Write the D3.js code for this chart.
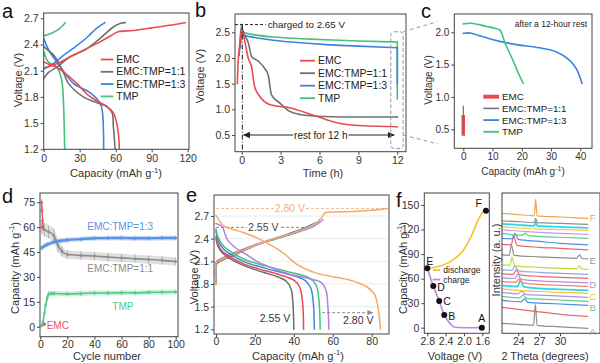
<!DOCTYPE html>
<html>
<head>
<meta charset="utf-8">
<script src="https://cdn.jsdelivr.net/npm/d3@7/dist/d3.min.js"></script>
<style>
  body { margin: 0; background: #fff; }
  svg text { font-family: Arial, "Liberation Sans", Helvetica, sans-serif; }
</style>
</head>
<body>
<svg id="fig" width="600" height="363"></svg>
<script>
// ---------- data ----------
const seriesNames = ["EMC", "EMC:TMP=1:1", "EMC:TMP=1:3", "TMP"];
const seriesColors = ["#ea4b53", "#6f6f6f", "#3d84dc", "#42c27d"];

// a: charge / discharge profiles [capacity, voltage]
const aCharge = [
  [[0, 2.13], [5, 2.15], [12, 2.185], [22, 2.26], [34, 2.34], [47, 2.43], [56, 2.5], [62, 2.545], [75, 2.56], [90, 2.59], [105, 2.62], [118, 2.65]],
  [[0, 2.01], [4, 2.08], [11, 2.14], [22, 2.26], [34.5, 2.34], [47, 2.47], [58, 2.6], [63.6, 2.64], [68, 2.65]],
  [[0, 2.12], [8, 2.18], [16, 2.27], [26, 2.37], [36, 2.48], [44, 2.585], [51, 2.65]],
  [[0, 2.5], [5, 2.52], [12, 2.57], [18, 2.65]]
];
const aDischarge = [
  [[0, 2.2], [5, 2.17], [10.7, 2.14], [18, 2.07], [27.5, 1.955], [37, 1.82], [45, 1.75], [52.5, 1.69], [58, 1.62], [60.8, 1.5], [62.5, 1.35], [63, 1.2]],
  [[0, 2.375], [4, 2.33], [9.4, 2.26], [16.4, 2.08], [20.6, 1.955], [33, 1.8], [45, 1.73], [52.5, 1.69], [57, 1.62], [58, 1.47], [59, 1.3], [59.5, 1.2]],
  [[0, 2.47], [4, 2.34], [13.6, 2.15], [24.7, 1.955], [38.6, 1.85], [47, 1.73], [49, 1.62], [49.8, 1.4], [50, 1.2]],
  [[0, 2.32], [3.9, 2.2], [11, 2.14], [15, 1.99], [16.4, 1.76], [17, 1.5], [17.5, 1.2]]
];

// b: voltage during rest [time h, voltage]; drop at t = 12 h per series
const bRest = [
  [[-0.34, 1.5], [-0.28, 1.9], [-0.22, 2.1], [-0.12, 2.35], [-0.05, 2.55], [0.12, 2.45], [0.3, 2.25], [0.5, 2.0], [0.76, 1.83], [1.0, 1.44], [1.4, 1.25], [2.2, 1.09], [3.7, 1.03], [5.7, 0.87], [7.5, 0.73], [9.3, 0.68], [12, 0.66]],
  [[-0.2, 2.05], [-0.12, 2.3], [-0.03, 2.58], [0.25, 2.43], [0.5, 2.3], [0.76, 2.03], [1.27, 1.94], [1.79, 1.79], [2.05, 1.66], [2.3, 1.28], [2.95, 1.12], [3.7, 0.96], [4.5, 0.9], [6.3, 0.86], [9, 0.85], [12, 0.85]],
  [[-0.1, 2.2], [-0.03, 2.5], [0.1, 2.45], [1, 2.4], [3, 2.33], [6, 2.27], [9, 2.23], [12, 2.2]],
  [[-0.08, 2.3], [-0.03, 2.66], [0.1, 2.5], [1, 2.45], [3, 2.4], [6, 2.36], [9, 2.33], [12, 2.31]]
];
const bDropTo = [0.66, 0.85, 1.5, 1.2];

// c: discharge after rest [capacity, voltage]
const cEMC = [[0, 0.4], [0, 0.72]];
const c11 = [[0, 0.45], [0, 0.86]];
const c13 = [[0, 1.985], [2.3, 1.99], [6.8, 1.93], [12.5, 1.86], [18.2, 1.81], [26, 1.76], [31.7, 1.7], [36.3, 1.57], [38.6, 1.44], [40.6, 1.21]];
const cTMP = [[0, 2.13], [2.8, 2.14], [8, 2.09], [11, 2.06], [12.6, 2.03], [14.3, 1.83], [17.2, 1.545], [19, 1.35], [20.5, 1.21]];

// d: cycling [cycle, capacity, error]
const dEMC = [[1, 75, 2], [1.3, 70, 2], [1.7, 64, 2], [2, 60, 2]];
const dEMCLow = [[2.7, 1.2, 0.8], [3.2, 1.6, 0.8]];
const d11 = [[1, 60, 4], [3, 58.5, 4], [6, 57.3, 4], [10, 55, 4], [13, 49, 4], [16, 45.5, 3], [20, 43.5, 2.5], [30, 43, 2.5], [40, 42.6, 2.5], [50, 42, 2.5], [60, 41.5, 2.5], [70, 41, 2.5], [80, 40.5, 2.5], [90, 40, 2.5], [100, 39.3, 2.5]];
const d13 = [[1, 47.5, 1.5], [3, 48.6, 1.5], [5, 49.5, 1.5], [10, 51, 1.5], [15, 51.8, 1.5], [20, 52.3, 1.5], [30, 52.8, 1.5], [40, 53.3, 1.5], [50, 53.4, 1.5], [60, 53.5, 1.5], [70, 53.3, 1.5], [80, 53.3, 1.5], [90, 53.5, 1.5], [100, 53.5, 1.5]];
const dTMP = [[1, 0.5, 1], [2, 3, 1.5], [3, 8, 1.5], [4, 13, 1.5], [5, 17, 2], [6, 19.5, 2], [8, 20, 1.5], [10, 20, 1.5], [20, 19.8, 1.5], [30, 20, 1.5], [40, 20.3, 1.5], [50, 20.3, 1.5], [60, 20.5, 1.5], [70, 20.4, 1.5], [80, 20.7, 1.5], [90, 20.8, 1.5], [100, 21, 1.5]];
const dColors = ["#e4545c", "#8c8c8c", "#5a93e6", "#4fcb86"];

// e: cut-off voltage profiles [capacity, voltage]
const eColors = ["#6b6b6b", "#e9474f", "#3e86dc", "#42c27d", "#b27fe2", "#f5a868"];
const eDischarge = [
  [[0, 2.4], [1, 2.3], [3, 2.22], [7, 2.14], [12, 2.07], [20, 1.99], [30, 1.91], [36, 1.84], [38.5, 1.74], [39.5, 1.55], [40, 1.2]],
  [[0, 2.43], [1, 2.33], [3, 2.24], [8, 2.15], [14, 2.07], [22, 2.0], [33, 1.92], [40, 1.85], [43, 1.76], [44.5, 1.55], [45, 1.2]],
  [[0, 2.5], [1, 2.38], [4, 2.26], [9, 2.17], [15, 2.09], [25, 2.01], [37, 1.93], [45, 1.86], [48.5, 1.76], [50, 1.55], [50.5, 1.2]],
  [[0, 2.53], [1, 2.42], [4, 2.3], [10, 2.19], [16, 2.11], [27, 2.03], [39, 1.95], [48, 1.88], [51.5, 1.78], [53, 1.55], [53.5, 1.2]],
  [[0, 2.6], [3, 2.56], [6, 2.38], [10, 2.28], [15, 2.2], [21, 2.1], [30, 2.0], [38, 1.93], [48, 1.87], [54, 1.82], [56.5, 1.72], [57.5, 1.5], [58, 1.2]],
  [[0, 2.71], [4, 2.57], [12, 2.5], [21, 2.41], [31, 2.27], [36, 2.18], [41, 2.07], [52, 1.94], [69, 1.85], [77, 1.77], [81.5, 1.66], [83.5, 1.45], [84.5, 1.2]]
];
const eCharge = [
  [[0, 1.8], [0.3, 2.06], [2, 2.1], [10, 2.19], [20, 2.31], [30, 2.4], [40, 2.49], [47, 2.55]],
  [[0, 1.82], [0.3, 2.07], [2, 2.11], [10, 2.2], [20, 2.31], [30, 2.4], [40, 2.48], [49, 2.58]],
  [[0, 1.85], [0.3, 2.08], [2, 2.12], [10, 2.2], [20, 2.31], [30, 2.4], [40, 2.48], [51, 2.61]],
  [[0, 1.85], [0.3, 2.09], [2, 2.12], [10, 2.21], [20, 2.31], [30, 2.39], [40, 2.47], [53, 2.63]],
  [[0, 1.9], [0.3, 2.1], [2, 2.13], [10, 2.22], [20, 2.32], [30, 2.4], [40, 2.47], [50, 2.56], [55, 2.65]],
  [[0, 1.8], [0.3, 2.08], [2, 2.11], [10, 2.2], [20, 2.31], [30, 2.4], [40, 2.48], [50, 2.58], [54, 2.67], [56, 2.74], [58, 2.75], [70, 2.76], [80, 2.775], [88, 2.8]]
];

// f left: capacity vs voltage [voltage, capacity]
const fCharge = [[1.61, 0], [1.8, 0], [2.0, 0], [2.2, 0.5], [2.3, 5], [2.43, 15.5], [2.54, 32.6], [2.67, 51], [2.8, 72.6]];
const fDischarge = [[2.8, 72.6], [2.63, 73.8], [2.3, 80.7], [2.01, 95], [1.83, 113], [1.69, 131.7], [1.58, 141.8], [1.52, 143]];
const fPointLabels = ["A", "B", "C", "D", "E", "F"];
const fPointV = [1.61, 2.43, 2.54, 2.67, 2.8, 1.52];
const fPointCap = [0, 15.5, 32.6, 51, 72.6, 143];

// f right: XRD patterns, bottom to top [2theta, intensity]
const xrdCurves = [
  [[21.6, 10], [24, 9], [26.2, 8], [26.45, 29], [26.7, 8], [30, 6.5], [34, 5]],
  [[21.6, 26], [24, 24], [27, 21.5], [30, 19], [34, 17]],
  [[21.6, 33], [24.4, 31.5], [24.9, 34.5], [25.4, 31], [28, 30], [31, 29], [34, 28]],
  [[21.6, 37], [24.2, 35.5], [24.7, 38.5], [25.2, 35], [28, 34], [31, 33], [34, 32]],
  [[21.6, 41], [24, 39.5], [24.5, 42.5], [25, 39], [28, 38], [31, 37], [34, 36]],
  [[21.6, 44.5], [24, 43], [27, 41.8], [30, 41], [34, 40]],
  [[21.6, 48], [23.9, 46.8], [24.3, 53], [24.8, 46.5], [27, 45], [30, 44], [34, 43]],
  [[21.6, 52], [23.7, 51], [24.1, 54.5], [24.6, 50.5], [27, 49], [30, 48], [34, 47]],
  [[21.6, 55.5], [23.5, 54.8], [23.9, 59], [24.4, 54], [27, 52.5], [30, 51.5], [34, 50.5]],
  [[21.6, 59.5], [23.3, 59], [23.7, 63.5], [24.2, 58.5], [27, 57], [30, 56], [34, 55]],
  [[21.6, 63.5], [23.1, 63], [23.5, 67.5], [24, 62.5], [27, 61], [30, 60], [34, 59]],
  [[21.6, 68.5], [22.8, 68], [23.1, 76], [23.5, 67.5], [27, 66], [32.4, 64.5], [32.8, 67.5], [33.2, 64.3], [34, 64]],
  [[21.6, 78.5], [22.7, 78], [23.0, 88.5], [23.4, 78], [27, 76.5], [32.4, 75], [32.8, 78.5], [33.2, 74.8], [34, 74.5]],
  [[21.6, 89], [23, 88.5], [23.3, 98], [23.8, 88], [27, 86], [30, 85], [34, 83.5]],
  [[21.6, 95], [23.2, 94.5], [23.5, 100], [24, 94], [27, 92], [30, 90], [34, 88.5]],
  [[21.6, 100], [24.6, 98.2], [25, 100.2], [25.5, 97.6], [28, 96.5], [31, 95.8], [34, 95]],
  [[21.6, 103.5], [24, 102.3], [27, 101], [30, 100], [34, 99]],
  [[21.6, 106.5], [24, 105.3], [27, 104.2], [30, 103.8], [34, 103]],
  [[21.6, 109.5], [24, 108.4], [26.3, 107.5], [26.5, 111.5], [26.75, 107.3], [30, 106.5], [34, 105.5]],
  [[21.6, 112.5], [24, 111.6], [26.3, 110.8], [26.5, 115], [26.75, 110.6], [30, 110], [34, 109]],
  [[21.6, 120], [24, 118.7], [26.3, 117.6], [26.5, 134], [26.7, 117.4], [30, 116.3], [34, 115]]
];
const xrdColors = ["#8e8e8e", "#e8676b", "#4d8fe0", "#5bd08a", "#b98be6", "#f5c530", "#2fd7e6", "#ef8a5c", "#b98be6", "#e8676b", "#8ea6ea",
  "#b4e02a", "#8e8e8e", "#e8676b", "#4d8fe0", "#5bd08a", "#c89ae8", "#f5c530", "#2fd7e6", "#8e8e8e", "#f4a259"];
const xrdLabels = ["A", "B", "C", "D", "E", "F"];
const xrdLabelI = [1.5, 25.5, 37, 48.5, 73, 116];
const xrdLabelColors = ["#a0a0a0", "#5bd08a", "#f2c12e", "#b98be6", "#9a9a9a", "#f0a060"];

// ---------- helpers ----------
const svg = d3.select("#fig");
const defs = svg.append("defs");
let clipN = 0;

function arrowMarker(id, color) {
  defs.append("marker").attr("id", id).attr("viewBox", "0 0 8 8")
    .attr("refX", 7).attr("refY", 4).attr("markerWidth", 6).attr("markerHeight", 6)
    .attr("orient", "auto-start-reverse")
    .append("path").attr("d", "M0,0.5 L8,4 L0,7.5 z").attr("fill", color);
}
arrowMarker("arrK", "#222");
arrowMarker("arrG", "#8a8a8a");

function makePanel(o) {
  const g = svg.append("g");
  const x = d3.scaleLinear().domain(o.xd).range(o.xr);
  const y = d3.scaleLinear().domain(o.yd).range(o.yr);
  const [x0, y0, x1, y1] = o.frame;
  const fs = o.fs || 10.5;
  const clipId = "clip" + (++clipN);
  defs.append("clipPath").attr("id", clipId).append("rect")
    .attr("x", x0).attr("y", y0).attr("width", x1 - x0).attr("height", y1 - y0);

  const xa = g.append("g").attr("transform", `translate(0,${y1})`)
    .call(d3.axisBottom(x).tickValues(o.xt).tickFormat(o.xf).tickSize(3).tickPadding(o.xpad == null ? 2 : o.xpad));
  xa.select(".domain").remove();
  xa.selectAll("text").attr("font-size", fs).attr("fill", "#333");
  xa.selectAll("line").attr("stroke", "#444");
  if (o.yt) {
    const ya = g.append("g").attr("transform", `translate(${x0},0)`)
      .call(d3.axisLeft(y).tickValues(o.yt).tickFormat(o.yf).tickSize(3).tickPadding(2));
    ya.select(".domain").remove();
    ya.selectAll("text").attr("font-size", fs).attr("fill", "#333");
    ya.selectAll("line").attr("stroke", "#444");
  }
  const plot = g.append("g").attr("clip-path", `url(#${clipId})`);
  g.append("rect").attr("x", x0).attr("y", y0).attr("width", x1 - x0).attr("height", y1 - y0)
    .attr("fill", "none").attr("stroke", "#444").attr("stroke-width", 1);
  return { g, plot, x, y };
}

function drawLine(p, pts, color, w, curve) {
  return p.plot.append("path").datum(pts)
    .attr("d", d3.line().x(d => p.x(d[0])).y(d => p.y(d[1])).curve(curve || d3.curveCatmullRom.alpha(0.5)))
    .attr("fill", "none").attr("stroke", color).attr("stroke-width", w)
    .attr("stroke-linejoin", "round").attr("stroke-linecap", "round");
}

function title(g, txt, x, y, fs, rot) {
  return g.append("text").attr("text-anchor", "middle").attr("font-size", fs).attr("fill", "#333")
    .attr("dy", rot ? "0.35em" : 0)
    .attr("transform", `translate(${x},${y})` + (rot ? " rotate(-90)" : ""))
    .text(txt);
}

function capTitle(g, x, y, fs, rot) {
  const t = g.append("text").attr("text-anchor", "middle").attr("font-size", fs).attr("fill", "#333")
    .attr("transform", `translate(${x},${y})` + (rot ? " rotate(-90)" : ""));
  if (rot) t.attr("dy", "0.35em");
  t.append("tspan").text("Capacity (mAh g");
  t.append("tspan").attr("font-size", fs * 0.7).attr("dy", -fs * 0.4).text("-1");
  t.append("tspan").attr("dy", fs * 0.4).text(")");
}

function legend(g, x0, y0, dy, names, colors, fs, len, widths) {
  names.forEach((n, i) => {
    const yy = y0 + i * dy;
    g.append("line").attr("x1", x0).attr("x2", x0 + len).attr("y1", yy).attr("y2", yy)
      .attr("stroke", colors[i]).attr("stroke-width", widths ? widths[i] : 1.8);
    g.append("text").attr("x", x0 + len + 3).attr("y", yy).attr("dy", "0.35em")
      .attr("font-size", fs).attr("fill", "#222").text(n);
  });
}

function letter(txt, x, y) {
  svg.append("text").attr("x", x).attr("y", y).attr("font-size", 20).attr("fill", "#111").text(txt);
}

function textBg(g, txt, x, y, fs, color, bg) {
  const t = g.append("text").attr("x", x).attr("y", y).attr("dy", "0.35em").attr("text-anchor", "middle")
    .attr("font-size", fs).attr("fill", color).text(txt);
  const b = t.node().getBBox();
  g.insert("rect", () => t.node()).attr("x", b.x - 1).attr("y", b.y + 1).attr("width", b.width + 2)
    .attr("height", b.height - 2).attr("fill", bg);
  return t;
}

const f1 = d3.format(".1f");
const fd = d3.format("d");
const BOTTOM_TITLE = 359.5;

// ---------- panel a ----------
const pa = makePanel({
  frame: [43.7, 13, 189, 149.3], xd: [0, 120], xr: [43.7, 187.7], yd: [1.2, 2.7], yr: [149.3, 18.3],
  xt: [0, 30, 60, 90, 120], xf: fd, yt: [1.2, 1.5, 1.8, 2.1, 2.4, 2.7], yf: f1
});
[3, 2, 1, 0].forEach(i => {
  drawLine(pa, aCharge[i], seriesColors[i], 1.6);
  drawLine(pa, aDischarge[i], seriesColors[i], 1.6);
});
legend(pa.g, 100.7, 59.5, 12.3, seriesNames, seriesColors, 10.5, 12.6);
title(pa.g, "Voltage (V)", 18, 80, 11, true);
capTitle(pa.g, 116, 177, 11, false);
letter("a", 2, 18);

// ---------- panel b ----------
const pb = makePanel({
  frame: [235, 14, 406, 151.7], xd: [0, 12], xr: [241.7, 397.3], yd: [0.5, 2.5], yr: [135, 32.3],
  xt: [0, 3, 6, 9, 12], xf: fd, yt: [0.5, 1.0, 1.5, 2.0, 2.5], yf: f1
});
[3, 2, 1, 0].forEach(i => {
  drawLine(pb, bRest[i], seriesColors[i], 1.6, d3.curveMonotoneX);
  const last = bRest[i][bRest[i].length - 1];
  drawLine(pb, [last, [last[0], bDropTo[i]]], seriesColors[i], 1.6, d3.curveLinear);
});
// charged-to line and t=0 marker
pb.g.append("line").attr("x1", 235).attr("x2", pb.x(1.85)).attr("y1", pb.y(2.65)).attr("y2", pb.y(2.65))
  .attr("stroke", "#222").attr("stroke-dasharray", "3,2").attr("stroke-width", 1);
pb.g.append("text").attr("x", pb.x(2.0)).attr("y", pb.y(2.65)).attr("dy", "0.35em")
  .attr("font-size", 9.8).attr("fill", "#222").text("charged to 2.65 V");
pb.g.append("line").attr("x1", pb.x(0.05)).attr("x2", pb.x(0.05)).attr("y1", pb.y(2.65)).attr("y2", 151.7)
  .attr("stroke", "#222").attr("stroke-dasharray", "5,2,1,2").attr("stroke-width", 1);
// rest arrow
pb.g.append("line").attr("x1", pb.x(0.15)).attr("x2", pb.x(11.75)).attr("y1", pb.y(0.5)).attr("y2", pb.y(0.5))
  .attr("stroke", "#222").attr("stroke-width", 1.2)
  .attr("marker-start", "url(#arrK)").attr("marker-end", "url(#arrK)");
textBg(pb.g, "rest for 12 h", pb.x(6.1), pb.y(0.5), 10, "#222", "#fff");
// zoom box
pb.g.append("rect").attr("x", pb.x(11.5)).attr("y", pb.y(2.51))
  .attr("width", pb.x(12.45) - pb.x(11.5)).attr("height", pb.y(0.24) - pb.y(2.51))
  .attr("rx", 3).attr("fill", "none").attr("stroke", "#999").attr("stroke-dasharray", "4,2");
svg.append("line").attr("x1", pb.x(12.45)).attr("y1", pb.y(2.51)).attr("x2", 437).attr("y2", 21.7)
  .attr("stroke", "#999").attr("stroke-dasharray", "4,3");
svg.append("line").attr("x1", pb.x(12.45)).attr("y1", pb.y(0.5)).attr("x2", 438).attr("y2", 144)
  .attr("stroke", "#999").attr("stroke-dasharray", "4,3");
legend(pb.g, 300, 60.7, 12.5, seriesNames, seriesColors, 10.5, 15);
title(pb.g, "Voltage (V)", 200, 76, 11, true);
title(pb.g, "Time (h)", 323, 177, 11, false);
letter("b", 195, 17);

// ---------- panel c ----------
const pc = makePanel({
  frame: [454.3, 14, 592, 148.3], xd: [0, 40], xr: [463.3, 580.3], yd: [0.5, 2.0], yr: [129.3, 32.3],
  xt: [0, 10, 20, 30, 40], xf: fd, yt: [0.5, 1.0, 1.5, 2.0], yf: f1, fs: 10
});
drawLine(pc, cEMC, seriesColors[0], 3.5, d3.curveLinear).attr("stroke-linecap", "butt");
drawLine(pc, c11, seriesColors[1], 1.2, d3.curveLinear);
drawLine(pc, c13, seriesColors[2], 1.6);
drawLine(pc, cTMP, seriesColors[3], 1.6);
legend(pc.g, 483.3, 96.7, 11.7, seriesNames, seriesColors, 9.8, 15.7, [4, 1.5, 1.8, 1.8]);
pc.g.append("text").attr("x", 587).attr("y", 27).attr("text-anchor", "end")
  .attr("font-size", 8.5).attr("fill", "#222").text("after a 12-hour rest");
title(pc.g, "Voltage (V)", 428, 80, 10, true);
capTitle(pc.g, 523, 175, 10, false);
letter("c", 421, 18);

// ---------- panel d ----------
const pd = makePanel({
  frame: [40, 193, 178, 336.7], xd: [0, 100], xr: [40.3, 175.7], yd: [0, 75], yr: [326.7, 202.3],
  xt: [0, 20, 40, 60, 80, 100], xf: fd, yt: [0, 15, 30, 45, 60, 75], yf: fd, xpad: 1
});
const band = d3.area().x(d => pd.x(d[0])).y0(d => pd.y(d[1] - d[2])).y1(d => pd.y(d[1] + d[2]))
  .curve(d3.curveMonotoneX);
function cycleSeries(data, color, w) {
  pd.plot.append("path").datum(data).attr("d", band).attr("fill", color).attr("opacity", 0.28);
  pd.plot.selectAll(null).data(data).enter().append("line")
    .attr("x1", d => pd.x(d[0])).attr("x2", d => pd.x(d[0]))
    .attr("y1", d => pd.y(d[1] - d[2])).attr("y2", d => pd.y(d[1] + d[2]))
    .attr("stroke", color).attr("stroke-width", 0.8).attr("opacity", 0.7);
  pd.plot.selectAll(null).data(data).enter().append("rect")
    .attr("x", d => pd.x(d[0]) - 1.2).attr("y", d => pd.y(d[1]) - 1.2).attr("width", 2.4).attr("height", 2.4)
    .attr("fill", color).attr("opacity", 0.8);
  drawLine(pd, data, color, w, d3.curveMonotoneX);
}
cycleSeries(d11, dColors[1], 1.6);
cycleSeries(d13, dColors[2], 2.4);
cycleSeries(dTMP, dColors[3], 1.6);
cycleSeries(dEMC, dColors[0], 1.4);
cycleSeries(dEMCLow, dColors[0], 1.4);
pd.g.append("text").attr("x", pd.x(59)).attr("y", pd.y(60.3)).attr("dy", "0.35em").attr("text-anchor", "middle")
  .attr("font-size", 10).attr("fill", dColors[2]).text("EMC:TMP=1:3");
pd.g.append("text").attr("x", pd.x(59)).attr("y", pd.y(34.8)).attr("dy", "0.35em").attr("text-anchor", "middle")
  .attr("font-size", 10).attr("fill", dColors[1]).text("EMC:TMP=1:1");
pd.g.append("text").attr("x", pd.x(61)).attr("y", pd.y(12)).attr("dy", "0.35em").attr("text-anchor", "middle")
  .attr("font-size", 10).attr("fill", dColors[3]).text("TMP");
pd.g.append("text").attr("x", pd.x(4.7)).attr("y", pd.y(0.8)).attr("dy", "0.35em")
  .attr("font-size", 10).attr("fill", dColors[0]).text("EMC");
capTitle(pd.g, 15, 268, 11, true);
title(pd.g, "Cycle number", 107, BOTTOM_TITLE, 11, false);
letter("d", 2, 203);

// ---------- panel e ----------
const pe = makePanel({
  frame: [214, 195, 389, 334], xd: [0, 80], xr: [216, 371.7], yd: [1.2, 2.7], yr: [329.3, 216],
  xt: [0, 20, 40, 60, 80], xf: fd, yt: [1.2, 1.5, 1.8, 2.1, 2.4, 2.7], yf: f1, xpad: 1
});
pe.plot.selectAll(null).data([1.5, 1.8, 2.1, 2.4, 2.7]).enter().append("line")
  .attr("x1", 214).attr("x2", 389).attr("y1", d => pe.y(d)).attr("y2", d => pe.y(d))
  .attr("stroke", "#e6e6e6").attr("stroke-width", 0.8);
pe.plot.append("line").attr("x1", pe.x(0)).attr("x2", pe.x(88)).attr("y1", pe.y(2.8)).attr("y2", pe.y(2.8))
  .attr("stroke", "#f3b98a").attr("stroke-dasharray", "3,2");
pe.plot.append("line").attr("x1", pe.x(0)).attr("x2", pe.x(48)).attr("y1", pe.y(2.55)).attr("y2", pe.y(2.55))
  .attr("stroke", "#888").attr("stroke-dasharray", "3,2");
eCharge.forEach((c, i) => drawLine(pe, c, eColors[i], 1.5));
eDischarge.forEach((c, i) => drawLine(pe, c, eColors[i], 1.5));
textBg(pe.g, "2.80 V", pe.x(38), pe.y(2.8), 10.5, "#f0b07a", "#fff");
textBg(pe.g, "2.55 V", pe.x(24.3), pe.y(2.55), 10.5, "#444", "#fff");
pe.g.append("line").attr("x1", pe.x(54.5)).attr("x2", pe.x(80.5)).attr("y1", pe.y(1.42)).attr("y2", pe.y(1.42))
  .attr("stroke", "#8a8a8a").attr("stroke-dasharray", "3,2").attr("marker-end", "url(#arrG)");
pe.g.append("text").attr("x", pe.x(30.3)).attr("y", pe.y(1.345)).attr("dy", "0.35em").attr("text-anchor", "middle")
  .attr("font-size", 10.5).attr("fill", "#333").text("2.55 V");
pe.g.append("text").attr("x", pe.x(73.1)).attr("y", pe.y(1.313)).attr("dy", "0.35em").attr("text-anchor", "middle")
  .attr("font-size", 10.5).attr("fill", "#333").text("2.80 V");
title(pe.g, "Voltage (V)", 194, 277, 11, true);
capTitle(pe.g, 298, BOTTOM_TITLE, 11, false);
letter("e", 186, 202);

// ---------- panel f (left) ----------
const pf = makePanel({
  frame: [424.3, 193, 489.3, 333.3], xd: [2.8, 1.6], xr: [427.3, 482.3], yd: [0, 150], yr: [327.7, 205],
  xt: [2.8, 2.4, 2.0, 1.6], xf: f1, yt: [0, 30, 60, 90, 120, 150], yf: fd, xpad: 1
});
pf.plot.attr("clip-path", null);
drawLine(pf, fCharge, "#b98be0", 1.6, d3.curveMonotoneX);
drawLine(pf, fDischarge, "#f2c42a", 1.6, d3.curveMonotoneX);
const fPts = fPointLabels.map((l, i) => ({ l, v: fPointV[i], c: fPointCap[i] }));
pf.g.selectAll(null).data(fPts).enter().append("circle")
  .attr("cx", d => pf.x(d.v)).attr("cy", d => pf.y(d.c)).attr("r", 3).attr("fill", "#111");
const fLabelOff = { A: [0, -9, "middle"], B: [4, 1, "start"], C: [4, 0, "start"], D: [4, 1, "start"], E: [-1, -7, "start"], F: [-4, -7, "end"] };
pf.g.selectAll(null).data(fPts).enter().append("text")
  .attr("x", d => pf.x(d.v) + fLabelOff[d.l][0]).attr("y", d => pf.y(d.c) + fLabelOff[d.l][1])
  .attr("dy", "0.35em").attr("text-anchor", d => fLabelOff[d.l][2])
  .attr("font-size", 10.5).attr("fill", "#111").text(d => d.l);
legend(pf.g, 432.7, 270, 9.6, ["discharge", "charge"], ["#f2c42a", "#b98be0"], 8.6, 7.5);
capTitle(pf.g, 403, 268, 11, true);
title(pf.g, "Voltage (V)", 455, BOTTOM_TITLE, 11, false);
letter("f", 396, 207);

// ---------- panel f (right) ----------
const px = makePanel({
  frame: [502, 193, 600, 333.3], xd: [24, 30], xr: [518.3, 560], yd: [0, 140], yr: [333.3, 193.3],
  xt: [24, 27, 30], xf: fd, xpad: 1
});
xrdCurves.forEach((c, i) => drawLine(px, c, xrdColors[i], xrdColors[i] === "#2fd7e6" ? 1.8 : 1.2, d3.curveMonotoneX));
px.g.selectAll(null).data(xrdLabels).enter().append("text")
  .attr("x", px.x(34.7)).attr("y", (d, i) => px.y(xrdLabelI[i])).attr("dy", "0.35em").attr("text-anchor", "middle")
  .attr("font-size", 9.5).attr("fill", (d, i) => xrdLabelColors[i]).text(d => d);
title(px.g, "Intensity (a. u.)", 496, 260, 11, true);
title(px.g, "2 Theta (degrees)", 545, BOTTOM_TITLE, 11, false);
</script>
</body>
</html>
